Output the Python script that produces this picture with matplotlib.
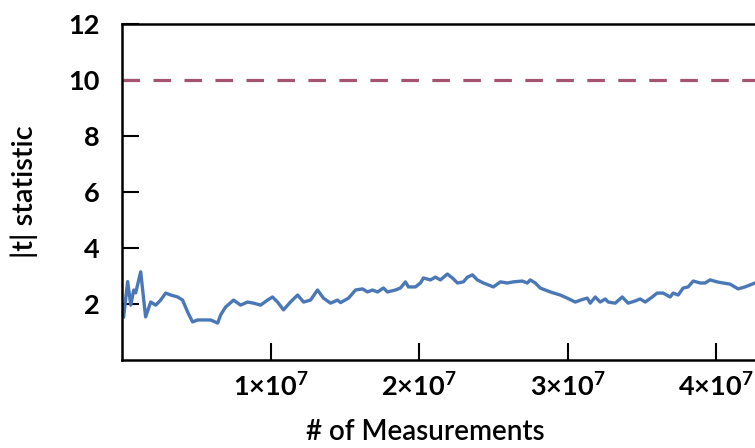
import matplotlib
matplotlib.use("Agg")
import matplotlib.pyplot as plt
from matplotlib.ticker import FuncFormatter

# |t| statistic against number of measurements (x in millions)
measurements_m = [
    0.11, 0.38, 0.59, 0.79, 0.92, 1.26, 1.39, 1.59, 1.93, 2.27, 2.60, 2.94,
    3.28, 3.75, 4.08, 4.42, 4.75, 5.09, 5.49, 5.96, 6.44, 6.64, 6.97, 7.51,
    7.98, 8.45, 8.86, 9.33, 9.80, 10.13, 10.47, 10.87, 11.34, 11.82, 12.22,
    12.69, 13.16, 13.56, 14.04, 14.51, 14.71, 15.25, 15.72, 16.19, 16.52,
    16.86, 17.20, 17.60, 17.87, 18.41, 18.74, 19.08, 19.28, 19.75, 20.09,
    20.29, 20.76, 21.10, 21.43, 21.90, 22.24, 22.58, 22.98, 23.25, 23.59,
    23.92, 24.33, 25.00, 25.47, 25.94, 26.34, 26.95, 27.28, 27.48, 27.82,
    28.15, 28.83, 29.50, 29.97, 30.51, 30.98, 31.32, 31.52, 31.86, 32.19,
    32.53, 32.73, 33.20, 33.67, 34.07, 34.55, 34.88, 35.22, 35.69, 36.02,
    36.43, 36.90, 37.10, 37.44, 37.77, 38.11, 38.45, 38.92, 39.25, 39.59,
    40.06, 40.46, 40.93, 41.47, 41.94, 42.61,
]
t_stat = [
    1.54, 2.80, 1.96, 2.50, 2.40, 3.15, 2.50, 1.54, 2.07, 1.96, 2.14, 2.39,
    2.32, 2.25, 2.14, 1.71, 1.36, 1.43, 1.43, 1.43, 1.32, 1.61, 1.89, 2.14,
    1.96, 2.07, 2.03, 1.96, 2.14, 2.25, 2.07, 1.79, 2.07, 2.32, 2.07,
    2.14, 2.50, 2.21, 2.03, 2.14, 2.05, 2.21, 2.50, 2.54, 2.43,
    2.50, 2.43, 2.57, 2.43, 2.50, 2.57, 2.79, 2.61, 2.61, 2.75,
    2.93, 2.86, 2.96, 2.86, 3.07, 2.93, 2.75, 2.79, 2.96, 3.04,
    2.86, 2.75, 2.61, 2.79, 2.75, 2.79, 2.82, 2.75, 2.86, 2.75,
    2.57, 2.43, 2.32, 2.21, 2.07, 2.16, 2.21, 2.03, 2.25, 2.07,
    2.18, 2.07, 2.03, 2.25, 2.03, 2.11, 2.18, 2.07, 2.25, 2.39,
    2.39, 2.25, 2.39, 2.32, 2.57, 2.61, 2.82, 2.75, 2.75, 2.86,
    2.79, 2.75, 2.71, 2.54, 2.61, 2.75,
]
threshold = 10
x_ticks = [1e7, 2e7, 3e7, 4e7]
y_ticks = [2, 4, 6, 8, 10, 12]

font = "Lato"
plt.rcParams["font.family"] = [font, "DejaVu Sans"]
plt.rcParams["mathtext.fontset"] = "custom"
plt.rcParams["mathtext.rm"] = font + ":bold"
plt.rcParams["mathtext.it"] = font + ":bold"
plt.rcParams["mathtext.bf"] = font + ":bold"

fig = plt.figure(figsize=(7.55, 4.48), dpi=100)
ax = fig.add_axes([122 / 755, 88 / 448, 1 - 122 / 755, 336 / 448])

x = [m * 1e6 for m in measurements_m]
ax.plot(x, t_stat, color="#4a78b6", lw=2.4)
ax.axhline(threshold, color="#a4546e", lw=2.3, dashes=(5.5, 4.2))

ax.set_xlim(0, 42.61e6)
ax.set_ylim(0, 12)
ax.set_xticks(x_ticks)
ax.set_yticks(y_ticks)
ax.xaxis.set_major_formatter(FuncFormatter(lambda v, p: r"$%d{\times}10^{7}$" % round(v / 1e7)))

ax.tick_params(direction="in", length=12, width=1.5, labelsize=19.5)
ax.tick_params(axis="y", pad=16)
ax.tick_params(axis="x", pad=9)
for lab in ax.get_yticklabels():
    lab.set_fontweight("bold")

for side in ["left", "bottom", "top"]:
    ax.spines[side].set_linewidth(1.8)
ax.spines["right"].set_visible(False)

ax.set_xlabel("# of Measurements", fontsize=20, fontweight="semibold")
ax.xaxis.set_label_coords(0.479, -0.175)
ax.set_ylabel("|t| statistic", fontsize=21, fontweight="semibold")
ax.yaxis.set_label_coords(-0.133, 0.5)

fig.savefig("out.png", dpi=100)
